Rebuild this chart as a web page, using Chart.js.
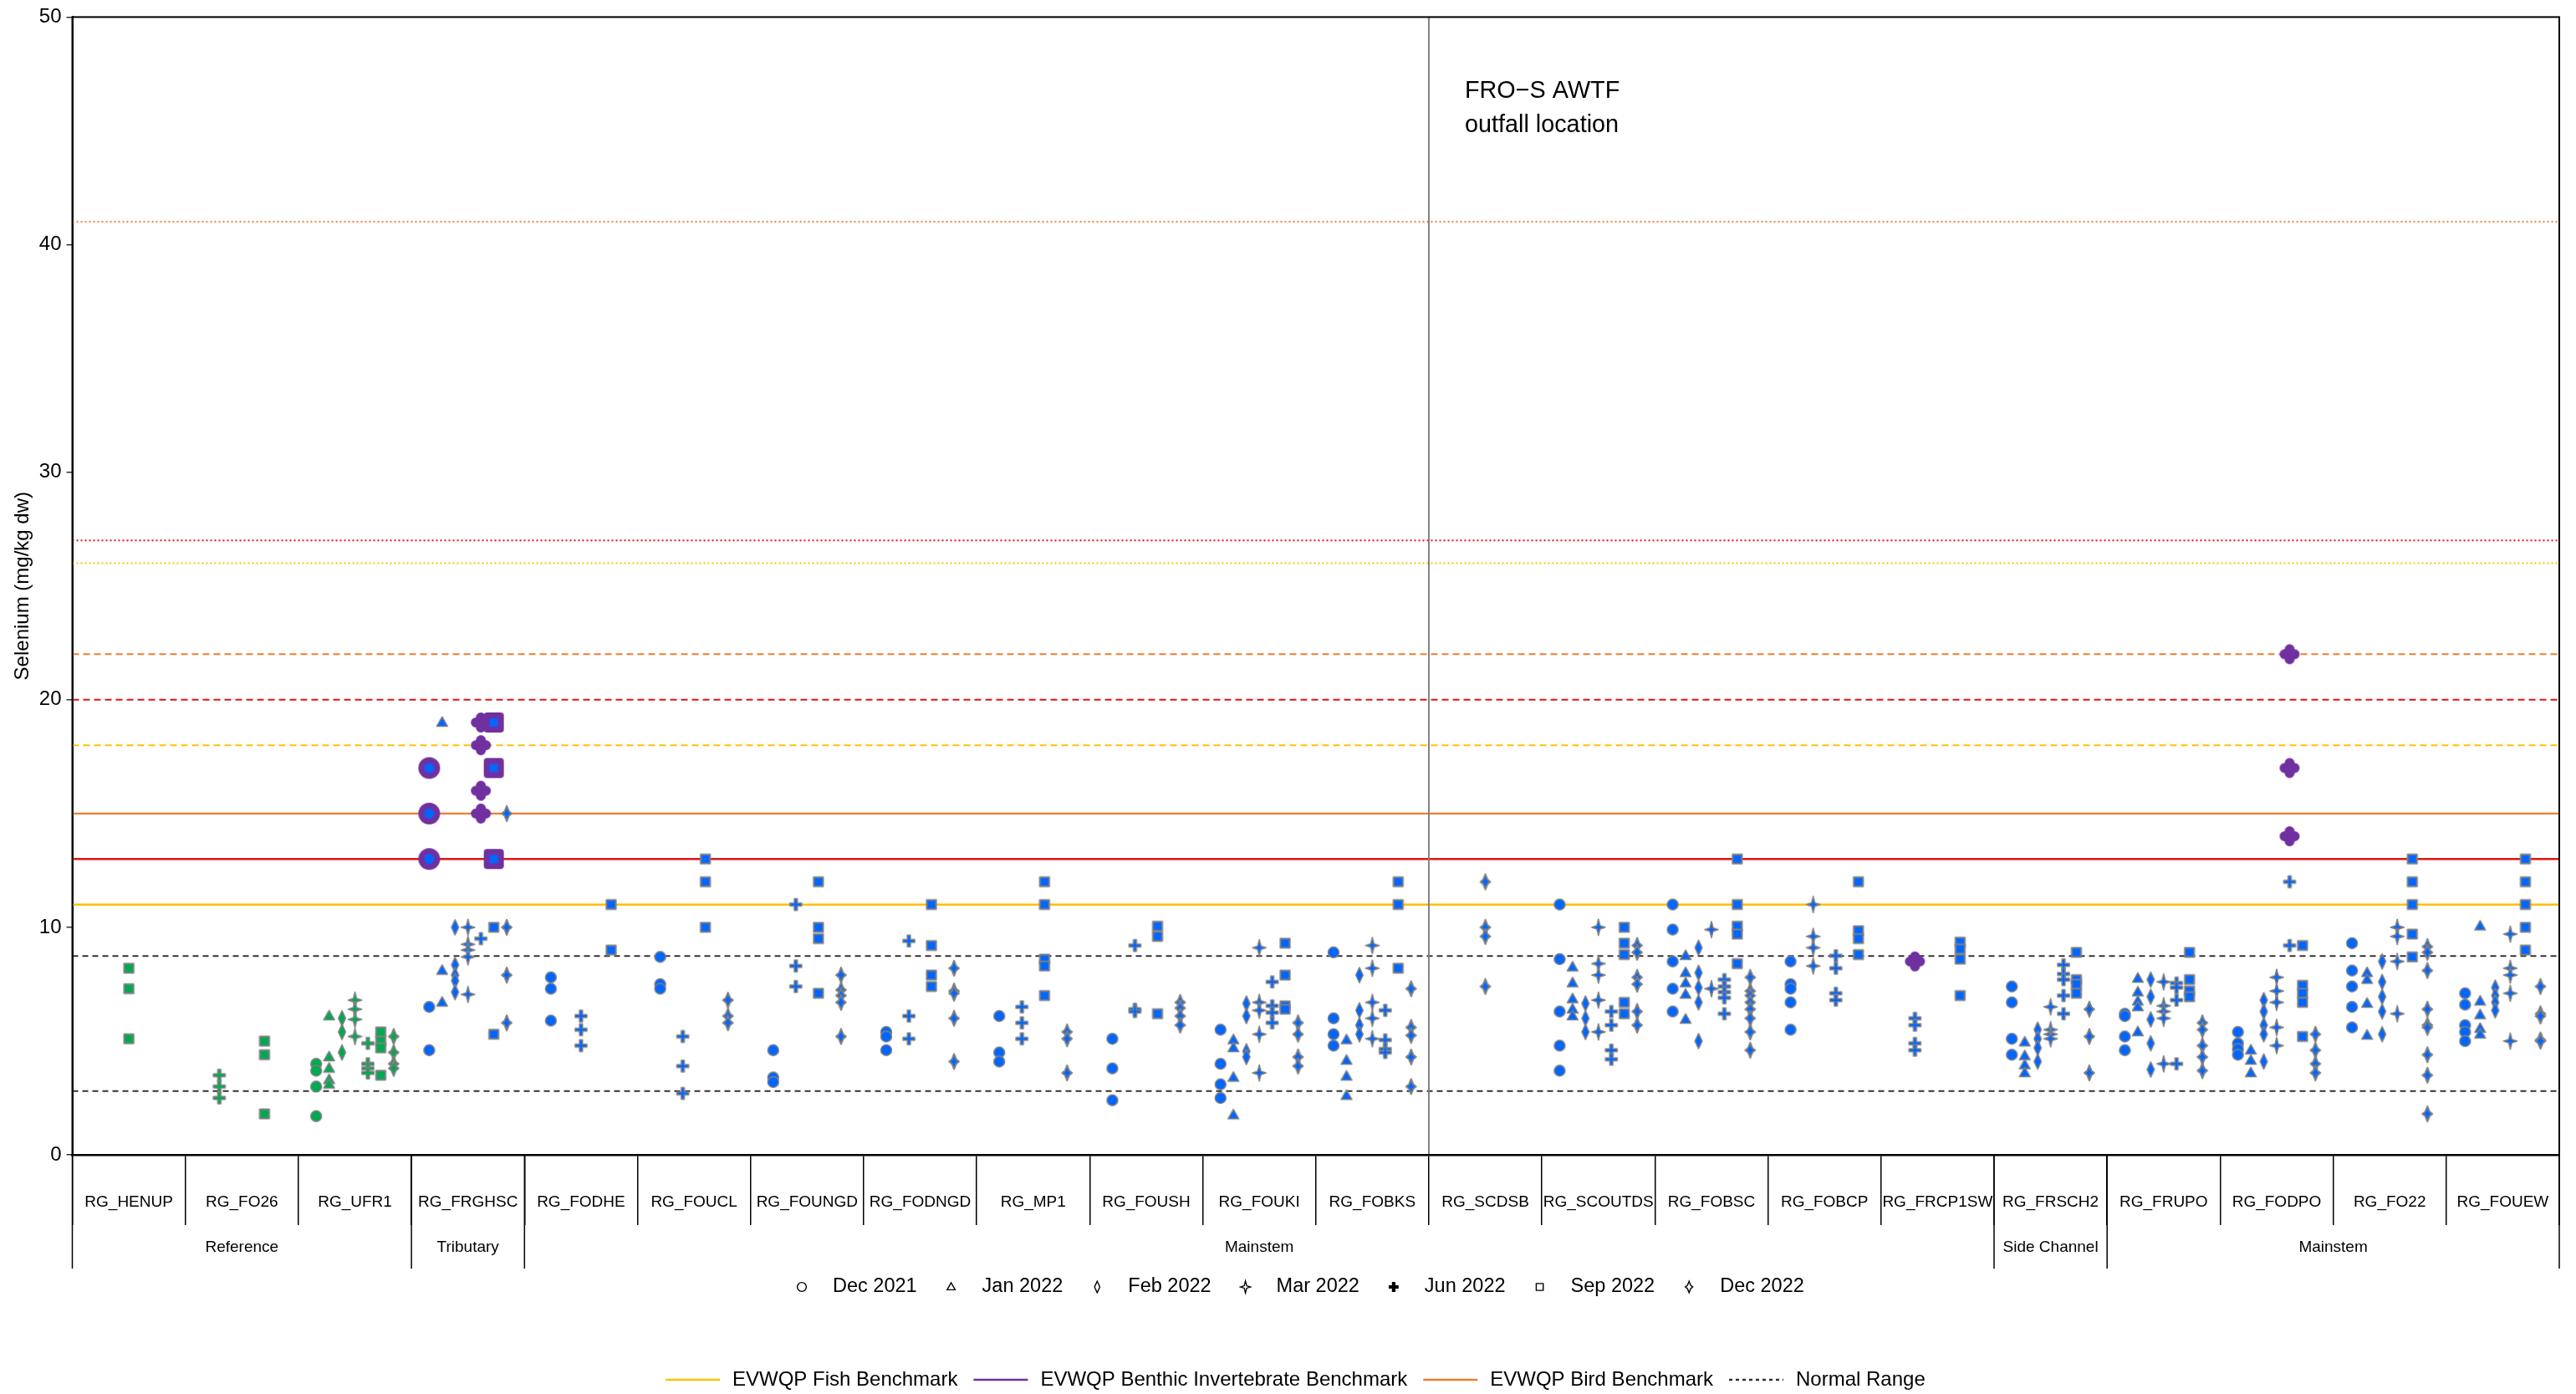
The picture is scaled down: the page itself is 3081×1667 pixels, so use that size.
<!DOCTYPE html>
<html>
<head>
<meta charset="utf-8">
<script src="https://cdn.jsdelivr.net/npm/chart.js@4.4.1/dist/chart.umd.min.js"></script>
<style>
  html, body { margin: 0; padding: 0; background: #ffffff; }
  canvas { display: block; }
</style>
</head>
<body>
<canvas id="chart" width="3081" height="1667" style="width:3081px;height:1667px"></canvas>
<script>
// ---- stations and grouping ----
const stations = ['RG_HENUP', 'RG_FO26', 'RG_UFR1', 'RG_FRGHSC', 'RG_FODHE', 'RG_FOUCL', 'RG_FOUNGD',
  'RG_FODNGD', 'RG_MP1', 'RG_FOUSH', 'RG_FOUKI', 'RG_FOBKS', 'RG_SCDSB', 'RG_SCOUTDS', 'RG_FOBSC',
  'RG_FOBCP', 'RG_FRCP1SW', 'RG_FRSCH2', 'RG_FRUPO', 'RG_FODPO', 'RG_FO22', 'RG_FOUEW'];
const areaNames = ['Reference', 'Tributary', 'Mainstem', 'Side Channel', 'Mainstem'];
const areaFirst = [0, 3, 4, 17, 18];
const areaLast = [2, 3, 16, 17, 21];
const referenceCount = 3;
const events = ['Dec 2021', 'Jan 2022', 'Feb 2022', 'Mar 2022', 'Jun 2022', 'Sep 2022', 'Dec 2022'];
const eventShapes = ['circle', 'triangle', 'diamond', 'star', 'plus', 'square', 'spark'];

// ---- selenium (mg/kg dw), one list per station, per sampling event ----
const dec2021 = [[], [], [4.0, 3.7, 3.0, 1.7], [6.5, 4.6], [7.8, 7.3, 5.9], [8.7, 7.5, 7.3], [4.6, 3.4, 3.2],
  [5.4, 5.2, 4.6], [6.1, 4.5, 4.1], [5.1, 3.8, 2.4], [5.5, 4.0, 3.1, 2.5], [8.9, 6.0, 5.3, 4.8], [],
  [11.0, 8.6, 6.3, 4.8, 3.7], [11.0, 9.9, 8.5, 7.3, 6.3], [8.5, 7.5, 7.3, 6.7, 5.5], [], [7.4, 6.7, 5.1, 4.4],
  [6.2, 6.1, 5.2, 4.6], [5.4, 4.9, 4.65, 4.4], [9.3, 8.1, 7.4, 6.5, 5.6], [7.1, 6.6, 5.7, 5.4, 5.0]];
const jan2022 = [[], [], [6.1, 4.3, 3.8, 3.3, 3.1], [19.0, 8.1, 6.7], [], [], [], [], [], [],
  [5.05, 4.7, 3.4, 1.75], [5.05, 4.15, 3.45, 2.6], [], [8.25, 7.55, 6.85, 6.4, 6.1], [8.75, 8.0, 7.55, 7.05, 5.95],
  [], [], [4.95, 4.35, 3.95, 3.6], [7.75, 7.15, 6.75, 6.5, 5.4], [4.6, 4.15, 3.6], [8.0, 7.7, 6.65, 5.25],
  [10.05, 6.75, 6.15, 5.55, 5.3]];
const feb2022 = [[], [], [6.0, 5.4, 4.5], [10.0, 8.35, 7.9, 7.65, 7.15], [], [], [], [], [], [],
  [6.65, 6.1, 4.55, 4.3], [7.9, 6.35, 5.7, 5.3], [], [6.65, 6.0, 5.4], [9.1, 8.0, 7.35, 6.7, 5.0], [], [],
  [5.5, 5.1, 4.7, 4.1], [7.7, 6.95, 5.95, 4.9, 3.75], [6.8, 6.3, 5.7, 5.3, 4.1], [8.5, 7.6, 6.95, 6.3, 5.3],
  [7.35, 7.0, 6.7, 6.35]];
const mar2022 = [[], [], [6.8, 6.4, 5.95, 5.2], [10.0, 9.25, 9.0, 8.7, 7.05], [], [], [], [], [], [],
  [9.1, 6.7, 6.35, 5.3, 3.6], [9.2, 8.2, 6.7, 6.0, 5.1], [], [10.0, 8.4, 7.9, 6.8, 5.4], [9.9, 7.3],
  [11.0, 9.6, 9.1, 8.3], [], [6.5, 5.5, 5.3, 5.1], [7.6, 6.55, 6.3, 6.0, 4.0], [7.8, 7.2, 6.7, 5.6, 4.8],
  [10.0, 9.6, 8.5, 6.2], [9.7, 8.2, 7.9, 7.1, 5.0]];
const jun2022 = [[], [3.5, 3.0, 2.5], [4.9, 4.0, 3.8, 3.6], [9.5], [6.1, 5.5, 4.8], [5.2, 3.9, 2.7],
  [11.0, 8.3, 7.4], [9.4, 6.1, 5.1], [6.5, 5.8, 5.1], [9.2, 6.4, 6.3], [7.6, 6.55, 6.25, 5.8],
  [6.35, 5.05, 4.65, 4.5], [], [6.3, 5.7, 4.6, 4.2], [7.7, 7.4, 7.15, 6.9, 6.2], [8.75, 8.2, 7.1, 6.8],
  [6.0, 5.7, 4.9, 4.6], [8.35, 7.95, 7.7, 7.0, 6.2], [7.55, 7.35, 6.8, 4.0], [12.0, 9.2], [], []];
const sep2022 = [[8.2, 7.3, 5.1], [5.0, 4.4, 1.8], [5.4, 5.0, 4.7, 3.5], [10.0, 5.3], [11.0, 9.0],
  [13.0, 12.0, 10.0], [12.0, 10.0, 9.5, 7.1], [11.0, 9.2, 7.9, 7.4], [12.0, 11.0, 8.6, 8.3, 7.0],
  [10.05, 9.6, 6.2], [9.3, 7.9, 6.55, 6.4], [12.0, 11.0, 8.2], [], [10.0, 9.3, 8.8, 6.7, 6.2],
  [13.0, 11.0, 10.05, 9.7, 8.4], [12.0, 9.85, 9.5, 8.8], [9.35, 9.05, 8.6, 7.0], [8.9, 7.7, 7.5, 7.1],
  [8.9, 7.7, 7.2, 6.95], [9.2, 7.45, 7.1, 6.7, 5.2], [13.0, 12.0, 11.0, 9.7, 8.7], [13.0, 12.0, 11.0, 10.0, 9.0]];
const dec2022 = [[], [], [5.2, 4.5, 4.0, 3.8], [15.0, 10.0, 7.9, 5.8], [], [6.8, 6.1, 5.8],
  [7.9, 7.25, 7.0, 6.7, 5.2], [8.2, 7.2, 7.1, 6.0, 4.1], [5.4, 5.1, 3.6], [6.7, 6.45, 6.1, 5.7],
  [5.8, 5.3, 4.3, 3.9], [7.3, 5.6, 5.25, 4.3, 3.0], [12.0, 10.0, 9.6, 7.4], [9.2, 8.9, 7.8, 7.5, 6.3, 5.7],
  [7.8, 7.2, 7.0, 6.7, 6.4, 6.0, 5.4, 4.6], [], [], [6.4, 5.2, 3.6], [5.8, 5.5, 4.8, 4.3, 3.7],
  [5.3, 4.6, 4.0, 3.6], [9.15, 8.9, 8.1, 6.4, 5.7, 5.6, 4.4, 3.5, 1.8], [7.4, 6.2, 6.1, 5.05, 5.0]];
const seriesByEvent = [dec2021, jan2022, feb2022, mar2022, jun2022, sep2022, dec2022];

// results shown with the purple benchmark highlight: [station index, value]
const highlightDec2021 = [[3, 17], [3, 15], [3, 13]];
const highlightJun2022 = [[3, 19], [3, 18], [3, 16], [3, 15], [16, 8.5], [19, 22], [19, 17], [19, 14]];
const highlightSep2022 = [[3, 19], [3, 17], [3, 13]];
const highlightEvents = [0, 4, 5];
const highlightSets = [highlightDec2021, highlightJun2022, highlightSep2022];

// ---- reference lines and axis ----
const yTicks = [0, 10, 20, 30, 40, 50];
const fishBenchmarks = [11, 18, 26];
const benthicBenchmarks = [13, 20, 27];
const birdBenchmarks = [15, 22, 41];
const normalRange = [2.8, 8.74];
const outfallPosition = 11.5;
const outfallLabel = ['FRO\u2212S AWTF', 'outfall location'];
const lineLegend = ['EVWQP Fish Benchmark', 'EVWQP Benthic Invertebrate Benchmark', 'EVWQP Bird Benchmark', 'Normal Range'];

// ---- styling ----
const FONT = '"Liberation Sans", Arial, Helvetica, sans-serif';
const BLUE = '#0066FF';
const GREEN = '#00AA50';
const EDGE = '#808080';
const PURPLE = '#7030A0';
const GOLD = '#FFC000';
const RED = '#E01515';
const ORANGE = '#ED7D31';
const STYLE_SOLID = [];
const STYLE_DASH = [8, 5];
const STYLE_DOT = [2, 3];
const MARK = 1.08;

function starPath(g, tx, ty, r) {
  g.moveTo(0, -ty); g.lineTo(r, -r); g.lineTo(tx, 0); g.lineTo(r, r);
  g.lineTo(0, ty); g.lineTo(-r, r); g.lineTo(-tx, 0); g.lineTo(-r, -r); g.closePath();
}
function plusPath(g, a, w) {
  g.moveTo(-w, -a); g.lineTo(w, -a); g.lineTo(w, -w); g.lineTo(a, -w); g.lineTo(a, w); g.lineTo(w, w);
  g.lineTo(w, a); g.lineTo(-w, a); g.lineTo(-w, w); g.lineTo(-a, w); g.lineTo(-a, -w); g.lineTo(-w, -w);
  g.closePath();
}
function tracePath(g, shape, k) {
  g.beginPath();
  switch (shape) {
    case 'circle': g.arc(0, 0, 6 * k, 0, Math.PI * 2); break;
    case 'triangle': g.moveTo(0, -6.3 * k); g.lineTo(6 * k, 4.2 * k); g.lineTo(-6 * k, 4.2 * k); g.closePath(); break;
    case 'diamond': g.moveTo(0, -8.5 * k); g.lineTo(4 * k, 0); g.lineTo(0, 8.5 * k); g.lineTo(-4 * k, 0); g.closePath(); break;
    case 'star': starPath(g, 7.5 * k, 9 * k, 1.8 * k); break;
    case 'plus': plusPath(g, 6.5 * k, 1.7 * k); break;
    case 'square': g.rect(-5.2 * k, -5.2 * k, 10.4 * k, 10.4 * k); break;
    case 'spark': starPath(g, 5.5 * k, 8.5 * k, 2.4 * k); break;
  }
}
function newCanvas(size) {
  const c = document.createElement('canvas');
  c.width = size; c.height = size;
  const g = c.getContext('2d');
  g.translate(size / 2, size / 2);
  return [c, g];
}
function marker(shape, fill) {
  const [c, g] = newCanvas(26);
  tracePath(g, shape, MARK);
  g.fillStyle = fill; g.fill();
  g.lineJoin = 'round';
  g.strokeStyle = EDGE;
  g.lineWidth = shape === 'square' || shape === 'spark' ? 2 : 1.5;
  g.stroke();
  return c;
}
function roundedSquare(g, h, r) {
  g.beginPath();
  g.moveTo(-h + r, -h); g.lineTo(h - r, -h); g.arcTo(h, -h, h, -h + r, r);
  g.lineTo(h, h - r); g.arcTo(h, h, h - r, h, r);
  g.lineTo(-h + r, h); g.arcTo(-h, h, -h, h - r, r);
  g.lineTo(-h, -h + r); g.arcTo(-h, -h, -h + r, -h, r);
  g.closePath();
}
function highlightMarker(shape) {
  const [c, g] = newCanvas(32);
  if (shape === 'circle') {
    g.beginPath(); g.arc(0, 0, 13, 0, Math.PI * 2); g.fillStyle = PURPLE; g.fill();
    g.beginPath(); g.arc(0, 0, 6, 0, Math.PI * 2); g.fillStyle = BLUE; g.fill();
  } else if (shape === 'square') {
    roundedSquare(g, 12, 4); g.fillStyle = PURPLE; g.fill();
    g.fillStyle = BLUE; g.fillRect(-5, -5, 10, 10);
  } else {
    g.strokeStyle = PURPLE; g.lineWidth = 12; g.lineCap = 'round';
    g.beginPath(); g.moveTo(-6, 0); g.lineTo(6, 0); g.moveTo(0, -6); g.lineTo(0, 6); g.stroke();
  }
  return c;
}

const blueMarkers = eventShapes.map(s => marker(s, BLUE));
const greenMarkers = eventShapes.map(s => marker(s, GREEN));

// dodge: spread the events present at a station across 0.8 of its slot
const offsets = stations.map((_, s) => {
  const present = events.map((_, e) =>
    seriesByEvent[e][s].length > 0 ||
    highlightSets.some((set, h) => highlightEvents[h] === e && set.some(p => p[0] === s)));
  const n = present.filter(Boolean).length;
  const out = {};
  let rank = 0;
  present.forEach((p, e) => { if (p) { out[e] = (rank - (n - 1) / 2) * (0.8 / n); rank++; } });
  return out;
});

const datasets = [];
function hline(v, color, width, dash) {
  datasets.push({
    data: [{ x: -0.5, y: v }, { x: stations.length - 0.5, y: v }],
    showLine: true, borderColor: color, borderWidth: width, borderDash: dash,
    pointRadius: 0, pointHoverRadius: 0, order: 20
  });
}
normalRange.forEach(v => hline(v, '#333333', 2, [7, 5]));
hline(fishBenchmarks[0], GOLD, 2.5, STYLE_SOLID);
hline(fishBenchmarks[1], GOLD, 2, STYLE_DASH);
hline(fishBenchmarks[2], GOLD, 2, STYLE_DOT);
hline(benthicBenchmarks[0], RED, 2.5, STYLE_SOLID);
hline(benthicBenchmarks[1], RED, 2, STYLE_DASH);
hline(benthicBenchmarks[2], RED, 2, STYLE_DOT);
hline(birdBenchmarks[0], ORANGE, 2.2, STYLE_SOLID);
hline(birdBenchmarks[1], ORANGE, 2, STYLE_DASH);
hline(birdBenchmarks[2], ORANGE, 2, STYLE_DOT);
datasets.push({
  data: [{ x: outfallPosition, y: yTicks[0] }, { x: outfallPosition, y: yTicks[yTicks.length - 1] }],
  showLine: true, borderColor: '#808080', borderWidth: 2, pointRadius: 0, pointHoverRadius: 0, order: 19
});

events.forEach((name, e) => {
  const pts = [];
  seriesByEvent[e].forEach((vals, s) => vals.forEach(v => pts.push({ x: s + offsets[s][e], y: v, s })));
  datasets.push({
    label: name, data: pts, order: 10 - e * 0.1,
    pointRadius: 6, pointHoverRadius: 6,
    pointStyle: ctx => (ctx.raw && ctx.raw.s < referenceCount ? greenMarkers[e] : blueMarkers[e])
  });
});
highlightSets.forEach((set, h) => {
  const e = highlightEvents[h];
  datasets.push({
    label: events[e] + ' (benchmark)', order: 3 - h * 0.5,
    data: set.map(([s, v]) => ({ x: s + offsets[s][e], y: v, s })),
    pointRadius: 12, pointHoverRadius: 12,
    pointStyle: highlightMarker(eventShapes[e])
  });
});

const decor = {
  id: 'decor',
  afterDraw(chart) {
    const { ctx, chartArea: a } = chart;
    const x = chart.scales.x;
    ctx.save();
    // plot frame
    ctx.strokeStyle = '#000'; ctx.lineWidth = 2;
    ctx.strokeRect(a.left, a.top, a.right - a.left, a.bottom - a.top);

    // area separators and names below the station labels
    ctx.lineWidth = 1.5;
    const bounds = new Set();
    areaFirst.forEach((f, i) => { bounds.add(f - 0.5); bounds.add(areaLast[i] + 0.5); });
    bounds.forEach(b => {
      const px = x.getPixelForValue(b);
      ctx.beginPath(); ctx.moveTo(px, a.bottom); ctx.lineTo(px, a.bottom + 136); ctx.stroke();
    });
    ctx.fillStyle = '#000'; ctx.textAlign = 'center'; ctx.textBaseline = 'middle';
    ctx.font = '19px ' + FONT;
    areaNames.forEach((n, i) => {
      ctx.fillText(n, x.getPixelForValue((areaFirst[i] + areaLast[i]) / 2), a.bottom + 111);
    });

    // outfall annotation
    ctx.textAlign = 'left';
    ctx.font = '28.8px ' + FONT;
    const ox = x.getPixelForValue(outfallPosition) + 43;
    ctx.fillText(outfallLabel[0], ox, a.top + 89);
    ctx.fillText(outfallLabel[1], ox, a.top + 130);

    // sampling event legend
    ctx.font = '23.5px ' + FONT;
    let lx = 959;
    const ly = a.bottom + 158;
    events.forEach((name, e) => {
      ctx.save();
      ctx.translate(lx, ly);
      tracePath(ctx, eventShapes[e], eventShapes[e] === 'circle' ? 0.9 : 0.8);
      ctx.lineWidth = 1.4; ctx.strokeStyle = '#000'; ctx.lineJoin = 'miter';
      if (eventShapes[e] === 'plus') { ctx.fillStyle = '#000'; ctx.fill(); }
      ctx.stroke();
      ctx.restore();
      const tx = lx + 37;
      ctx.fillText(name, tx, ly);
      lx = tx + ctx.measureText(name).width + 41;
    });

    // benchmark legend
    ctx.font = '24px ' + FONT;
    const lineStyles = [[GOLD, []], [PURPLE, []], [ORANGE, []], ['#333333', [4, 4]]];
    let bx = 796;
    const by = a.bottom + 269;
    lineLegend.forEach((label, i) => {
      ctx.beginPath();
      ctx.setLineDash(lineStyles[i][1]);
      ctx.strokeStyle = lineStyles[i][0]; ctx.lineWidth = 2.5;
      ctx.moveTo(bx, by); ctx.lineTo(bx + 65, by); ctx.stroke();
      ctx.setLineDash([]);
      const tx = bx + 80;
      ctx.fillText(label, tx, by);
      bx = tx + ctx.measureText(label).width + 19;
    });
    ctx.restore();
  }
};

new Chart(document.getElementById('chart'), {
  type: 'scatter',
  data: { datasets },
  options: {
    responsive: false,
    animation: false,
    devicePixelRatio: 1,
    layout: { padding: { top: 19.5, right: 20, bottom: 0, left: 0 } },
    plugins: { legend: { display: false }, tooltip: { enabled: false } },
    scales: {
      x: { type: 'linear', min: -0.5, max: stations.length - 0.5, display: false },
      xcat: {
        type: 'category', labels: stations, position: 'bottom', offset: true,
        grid: { display: true, offset: true, drawOnChartArea: false, drawTicks: true, tickLength: 84, color: '#000', lineWidth: 1.5 },
        border: { display: true, color: '#000', width: 2.5 },
        ticks: { autoSkip: false, maxRotation: 0, minRotation: 0, padding: -39, color: '#000', font: { family: FONT, size: 19 } },
        afterFit: s => { s.height = 286; }
      },
      y: {
        type: 'linear', min: yTicks[0], max: yTicks[yTicks.length - 1],
        afterBuildTicks: s => { s.ticks = yTicks.map(v => ({ value: v })); },
        grid: { display: true, drawOnChartArea: false, drawTicks: true, tickLength: 7, color: '#333', lineWidth: 1.5 },
        border: { display: true, color: '#000', width: 2 },
        ticks: { padding: 6, color: '#000', font: { family: FONT, size: 24 } },
        title: { display: true, text: 'Selenium (mg/kg dw)', color: '#000', font: { family: FONT, size: 24 }, padding: { top: 12.6, bottom: 0 } },
        afterFit: s => { s.width = 86.5; }
      }
    }
  },
  plugins: [decor]
});
</script>
</body>
</html>
